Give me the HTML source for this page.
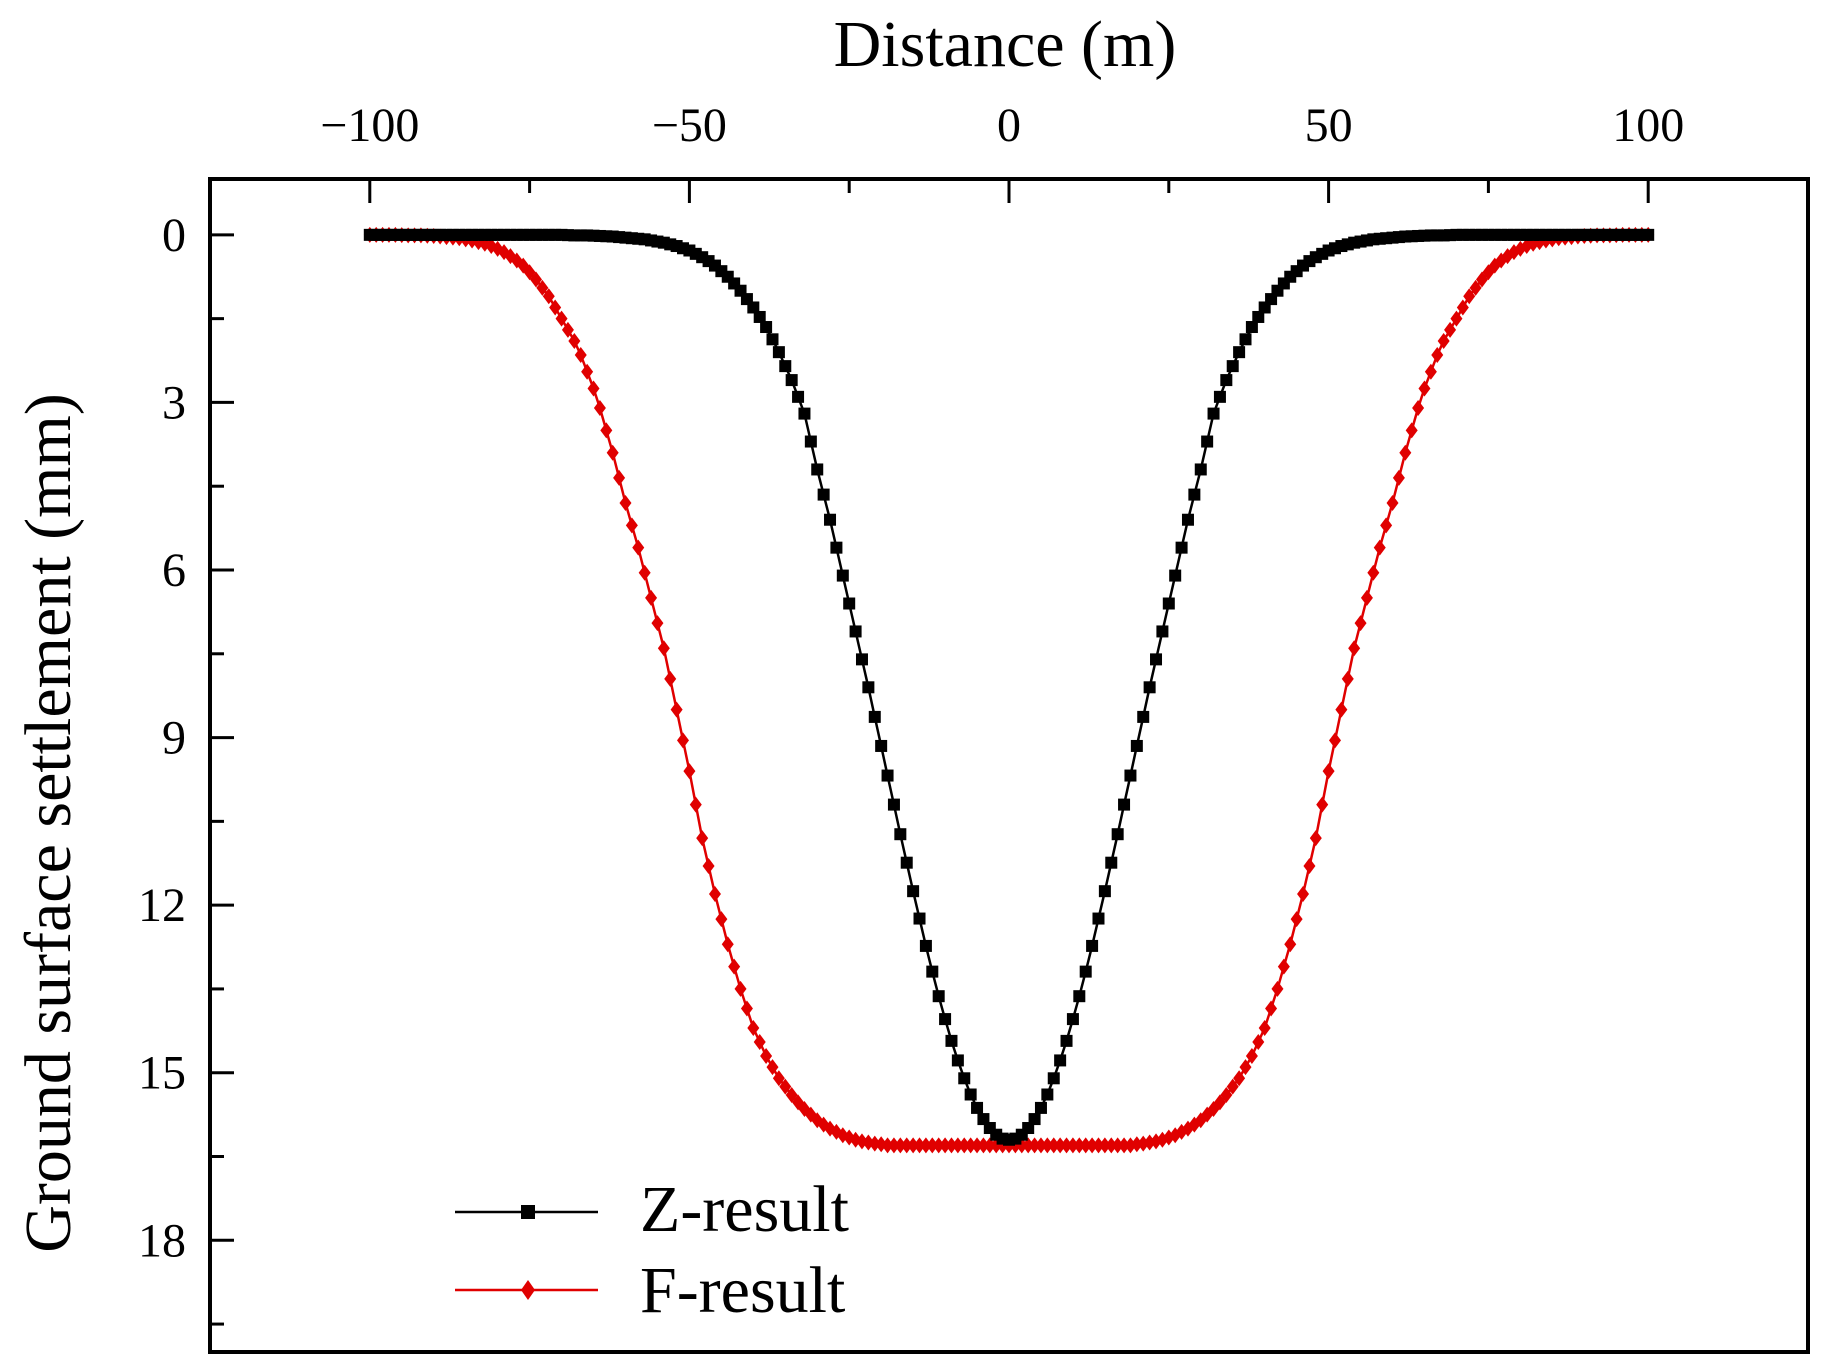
<!DOCTYPE html>
<html><head><meta charset="utf-8"><style>
html,body{margin:0;padding:0;background:#fff;}
svg{display:block;}
text{font-family:"Liberation Serif",serif;fill:#000;}
</style></head><body>
<svg id="chart" width="1824" height="1367" viewBox="0 0 1824 1367" xmlns="http://www.w3.org/2000/svg">
<g id="axes"></g>
<g id="series"></g>
<g id="legend">
  <line x1="455" y1="1212" x2="598" y2="1212" stroke="#000" stroke-width="2.5"/>
  <rect x="521" y="1205" width="14" height="14" fill="#000"/>
  <text x="640" y="1231" font-size="66">Z-result</text>
  <line x1="455" y1="1290" x2="598" y2="1290" stroke="#e00000" stroke-width="2.5"/>
  <path d="M528 1280 L535 1290 L528 1300 L521 1290 Z" fill="#e00000"/>
  <text x="640" y="1312" font-size="66">F-result</text>
</g>
</svg>
<script>
const xValues = [];
for (let x = -100; x <= 100; x++) xValues.push(x);
const zResult = [0,0,0,0,0,0,0,0,0,0,0,0,0,0,0,0,0,0,0,0,0,0,0,0,0,0,0,0,0,0,0,
0.005,0.01,0.01,0.01,0.015,0.02,0.025,0.03,0.04,0.05,0.06,0.07,0.08,0.1,0.12,0.14,0.17,0.2,0.24,0.28,0.34,0.4,0.47,0.55,0.65,0.75,0.87,1.0,1.15,1.3,1.47,1.65,1.87,2.1,2.35,2.6,2.9,3.2,3.7,4.2,4.65,5.1,5.6,6.1,6.6,7.1,7.6,8.1,8.63,9.15,9.68,10.2,10.73,11.24,11.75,12.24,12.73,13.19,13.63,14.04,14.43,14.78,15.1,15.39,15.63,15.83,15.99,16.11,16.18,
16.2,
16.18,16.11,15.99,15.83,15.63,15.39,15.1,14.78,14.43,14.04,13.63,13.19,12.73,12.24,11.75,11.24,10.73,10.2,9.68,9.15,8.63,8.1,7.6,7.1,6.6,6.1,5.6,5.1,4.65,4.2,3.7,3.2,2.9,2.6,2.35,2.1,1.87,1.65,1.47,1.3,1.15,1.0,0.87,0.75,0.65,0.55,0.47,0.4,0.34,0.28,0.24,0.2,0.17,0.14,0.12,0.1,0.08,0.07,0.06,0.05,0.04,0.03,0.025,0.02,0.015,0.01,0.01,0.01,0.005,
0,0,0,0,0,0,0,0,0,0,0,0,0,0,0,0,0,0,0,0,0,0,0,0,0,0,0,0,0,0,0];
const fResult = [0,0,0,0,0,
0.005,0.01,0.01,0.01,0.015,0.02,0.03,0.04,0.05,0.06,0.08,0.1,0.13,0.16,0.2,0.25,0.31,0.38,0.46,0.55,0.67,0.8,0.95,1.1,1.3,1.5,1.7,1.9,2.15,2.45,2.75,3.1,3.5,3.9,4.35,4.8,5.2,5.6,6.05,6.5,6.95,7.4,7.95,8.5,9.05,9.6,10.2,10.8,11.3,11.8,12.25,12.7,13.1,13.5,13.85,14.2,14.45,14.7,14.9,15.1,15.25,15.4,15.53,15.65,15.75,15.85,15.93,16.0,16.06,16.12,16.16,16.2,16.23,16.25,16.27,16.28,
16.3,16.3,16.3,16.3,16.3,16.3,16.3,16.3,16.3,16.3,16.3,16.3,16.3,16.3,16.3,16.3,16.3,16.3,16.3,
16.3,
16.3,16.3,16.3,16.3,16.3,16.3,16.3,16.3,16.3,16.3,16.3,16.3,16.3,16.3,16.3,16.3,16.3,16.3,16.3,
16.28,16.27,16.25,16.23,16.2,16.16,16.12,16.06,16.0,15.93,15.85,15.75,15.65,15.53,15.4,15.25,15.1,14.9,14.7,14.45,14.2,13.85,13.5,13.1,12.7,12.25,11.8,11.3,10.8,10.2,9.6,9.05,8.5,7.95,7.4,6.95,6.5,6.05,5.6,5.2,4.8,4.35,3.9,3.5,3.1,2.75,2.45,2.15,1.9,1.7,1.5,1.3,1.1,0.95,0.8,0.67,0.55,0.46,0.38,0.31,0.25,0.2,0.16,0.13,0.1,0.08,0.06,0.05,0.04,0.03,0.02,0.015,0.01,0.01,0.01,0.005,
0,0,0,0,0];
const xTicks = [-100,-50,0,50,100];
const xTickLabels = ["\u2212100","\u221250","0","50","100"];
const xMinorTicks = [-75,-25,25,75];
const yTicks = [0,3,6,9,12,15,18];
const yMinorTicks = [1.5,4.5,7.5,10.5,13.5,16.5,19.5];

const L=210,R=1808,T=179,B=1352;
const xMin=-125,xMax=125,yMin=-1,yMax=20;
const sx=v=>L+(v-xMin)/(xMax-xMin)*(R-L);
const sy=v=>T+(v-yMin)/(yMax-yMin)*(B-T);
const NS="http://www.w3.org/2000/svg";
function mk(tag,attrs,parent){const e=document.createElementNS(NS,tag);for(const k in attrs)e.setAttribute(k,attrs[k]);parent.appendChild(e);return e;}
const axes=document.getElementById('axes');
const series=document.getElementById('series');

let frame=mk('rect',{x:L,y:T,width:R-L,height:B-T,fill:'none',stroke:'#000','stroke-width':4},axes);



xTicks.forEach((v,i)=>{
  let t=mk('line',{x1:sx(v),x2:sx(v),y1:T,y2:T+24,stroke:'#000','stroke-width':3},axes);
  
  
  let lb=mk('text',{x:sx(v),y:141,'font-size':48,'text-anchor':'middle'},axes);
  lb.textContent=xTickLabels[i];
  
  
});
xMinorTicks.forEach(v=>{
  let t=mk('line',{x1:sx(v),x2:sx(v),y1:T,y2:T+14,stroke:'#000','stroke-width':3},axes);
  
  
});
yTicks.forEach(v=>{
  let t=mk('line',{x1:L,x2:L+24,y1:sy(v),y2:sy(v),stroke:'#000','stroke-width':3},axes);
  
  
  let lb=mk('text',{x:186,y:sy(v)+16,'font-size':48,'text-anchor':'end'},axes);
  lb.textContent=String(v);
  
  
});
yMinorTicks.forEach(v=>{
  let t=mk('line',{x1:L,x2:L+14,y1:sy(v),y2:sy(v),stroke:'#000','stroke-width':3},axes);
  
  
});
let xt=mk('text',{x:1005,y:66,'font-size':66,'text-anchor':'middle'},axes);
xt.textContent='Distance (m)';


let yt=mk('text',{x:0,y:0,'font-size':66,'text-anchor':'middle',transform:'translate(70,823) rotate(-90)'},axes);
yt.textContent='Ground surface settlement (mm)';



function drawSeries(vals,color,shape,name){
  const g=mk('g',{},series);
  
  
  const pts=xValues.map((x,i)=>sx(x)+','+sy(vals[i])).join(' ');
  let pl=mk('polyline',{points:pts,fill:'none',stroke:color,'stroke-width':2.5},g);
  
  
  xValues.forEach((x,i)=>{
    const cx=sx(x),cy=sy(vals[i]);
    let m;
    if(shape==='square') m=mk('rect',{x:cx-6,y:cy-6,width:12,height:12,fill:color},g);
    else m=mk('path',{d:`M${cx} ${cy-8} L${cx+6} ${cy} L${cx} ${cy+8} L${cx-6} ${cy} Z`,fill:color},g);
    
    
  });
}
drawSeries(fResult,'#e00000','diamond','f-result');
drawSeries(zResult,'#000','square','z-result');
</script>
</body></html>
